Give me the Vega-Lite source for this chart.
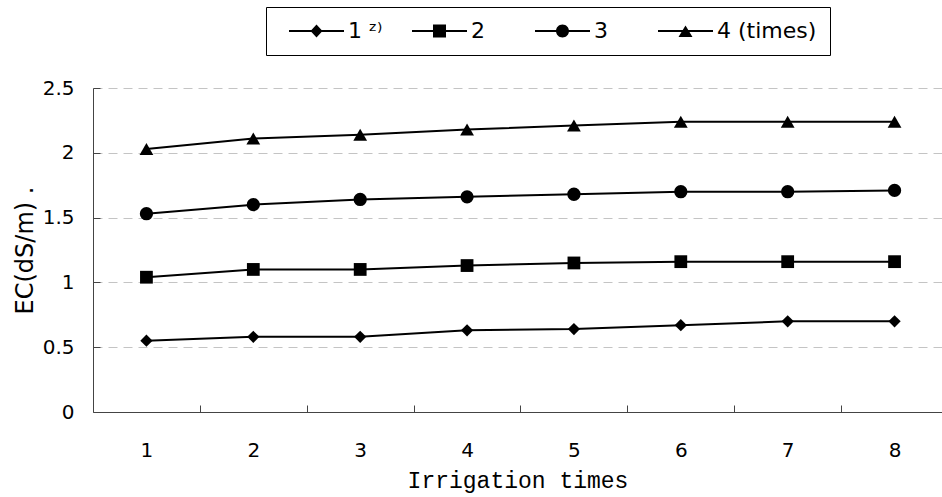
{
  "$schema": "https://vega.github.io/schema/vega-lite/v6.json",
  "width": 849,
  "height": 324,
  "autosize": {"type": "none"},
  "padding": {"left": 93, "top": 88, "right": 0, "bottom": 85},
  "background": "white",
  "config": {"view": {"stroke": null}, "font": "DejaVu Sans"},
  "data": {
    "values": [
      {"t": 1, "s": "1", "v": 0.55}, {"t": 2, "s": "1", "v": 0.58}, {"t": 3, "s": "1", "v": 0.58}, {"t": 4, "s": "1", "v": 0.63},
      {"t": 5, "s": "1", "v": 0.64}, {"t": 6, "s": "1", "v": 0.67}, {"t": 7, "s": "1", "v": 0.70}, {"t": 8, "s": "1", "v": 0.70},
      {"t": 1, "s": "2", "v": 1.04}, {"t": 2, "s": "2", "v": 1.10}, {"t": 3, "s": "2", "v": 1.10}, {"t": 4, "s": "2", "v": 1.13},
      {"t": 5, "s": "2", "v": 1.15}, {"t": 6, "s": "2", "v": 1.16}, {"t": 7, "s": "2", "v": 1.16}, {"t": 8, "s": "2", "v": 1.16},
      {"t": 1, "s": "3", "v": 1.53}, {"t": 2, "s": "3", "v": 1.60}, {"t": 3, "s": "3", "v": 1.64}, {"t": 4, "s": "3", "v": 1.66},
      {"t": 5, "s": "3", "v": 1.68}, {"t": 6, "s": "3", "v": 1.70}, {"t": 7, "s": "3", "v": 1.70}, {"t": 8, "s": "3", "v": 1.71},
      {"t": 1, "s": "4", "v": 2.03}, {"t": 2, "s": "4", "v": 2.11}, {"t": 3, "s": "4", "v": 2.14}, {"t": 4, "s": "4", "v": 2.18},
      {"t": 5, "s": "4", "v": 2.21}, {"t": 6, "s": "4", "v": 2.24}, {"t": 7, "s": "4", "v": 2.24}, {"t": 8, "s": "4", "v": 2.24}
    ]
  },
  "layer": [
    {
      "mark": {"type": "line", "color": "black", "strokeWidth": 2},
      "encoding": {
        "x": {
          "field": "t", "type": "quantitative",
          "scale": {"domain": [0.5, 8.444], "nice": false, "zero": false},
          "axis": {
            "values": [1, 2, 3, 4, 5, 6, 7, 8], "format": "d",
            "tickOffset": 53.44, "labelOffset": -53.44,
            "grid": false, "labelFlush": false, "labelOverlap": false,
            "tickSize": -7, "tickColor": "#444", "domainColor": "#444",
            "labelFont": "DejaVu Sans", "labelFontSize": 20, "labelColor": "black", "labelPadding": 35,
            "title": "Irrigation times", "titleFont": "Liberation Mono", "titleFontSize": 23,
            "titleFontWeight": "normal", "titleColor": "black", "titlePadding": 9
          }
        },
        "y": {
          "field": "v", "type": "quantitative",
          "scale": {"domain": [0, 2.5], "nice": false},
          "axis": {
            "values": [0, 0.5, 1, 1.5, 2, 2.5], "format": "~g",
            "grid": true, "gridColor": "#c4c4c4", "gridDash": [9, 6], "gridWidth": 1,
            "tickSize": -7, "tickColor": "#444", "domainColor": "#444",
            "labelFont": "DejaVu Sans", "labelFontSize": 20, "labelColor": "black", "labelPadding": 26,
            "title": "EC(dS/m)  .", "titleFont": "DejaVu Sans", "titleFontSize": 24,
            "titleFontWeight": "normal", "titleColor": "black", "titlePadding": 5
          }
        },
        "detail": {"field": "s", "type": "nominal"}
      }
    },
    {
      "mark": {"type": "point", "filled": true, "color": "black", "opacity": 1},
      "encoding": {
        "x": {"field": "t", "type": "quantitative"},
        "y": {"field": "v", "type": "quantitative"},
        "shape": {
          "field": "s", "type": "nominal",
          "scale": {"domain": ["1", "2", "3", "4"], "range": ["diamond", "square", "circle", "triangle-up"]},
          "legend": null
        },
        "size": {
          "field": "s", "type": "ordinal",
          "scale": {"domain": ["1", "2", "3", "4"], "range": [150, 190, 140, 180]},
          "legend": null
        }
      }
    },
    {
      "transform": [{"filter": "datum.v < 0"}],
      "mark": {"type": "point", "filled": true, "color": "black", "opacity": 1},
      "encoding": {
        "x": {"field": "t", "type": "quantitative"},
        "y": {"field": "v", "type": "quantitative"},
        "shape": {
          "field": "s", "type": "nominal",
          "scale": {
            "domain": ["1", "2", "3", "4"],
            "range": [
              "M-2.75,-0.1H2.75V0.1H-2.75ZM0,-0.65L0.6,0L0,0.65L-0.6,0Z",
              "M-2.75,-0.1H2.75V0.1H-2.75ZM-0.65,-0.65H0.65V0.65H-0.65Z",
              "M-2.75,-0.1H2.75V0.1H-2.75ZM-0.65,0A0.65,0.65 0 1,1 0.65,0A0.65,0.65 0 1,1 -0.65,0Z",
              "M-2.75,-0.1H2.75V0.1H-2.75ZM0,-0.55L0.7,0.6L-0.7,0.6Z"
            ]
          },
          "legend": {
            "title": null,
            "orient": "none",
            "legendX": 173,
            "legendY": -81,
            "direction": "horizontal",
            "columns": 4,
            "symbolSize": 400,
            "symbolOffset": 26.5,
            "labelOffset": 20.5,
            "labelFont": "DejaVu Sans",
            "labelFontSize": 22,
            "labelColor": "black",
            "labelLimit": 300,
            "labelExpr": "datum.label == '1' ? '1 ᶻ⁾' : datum.label == '2' ? '2\u00a0\u00a0\u00a0\u200b' : datum.label == '3' ? '3\u00a0\u00a0\u00a0\u200b' : '4 (times)'",
            "symbolFillColor": "black",
            "symbolStrokeWidth": 0,
            "strokeColor": "black",
            "padding": 13,
            "columnPadding": 19,
            "encode": {
              "symbols": {
                "update": {
                  "fill": {"value": "black"},
                  "opacity": {"value": 1}
                }
              }
            }
          }
        }
      }
    }
  ],
  "resolve": {"scale": {"shape": "independent", "size": "independent"}, "legend": {"shape": "independent"}}
}
